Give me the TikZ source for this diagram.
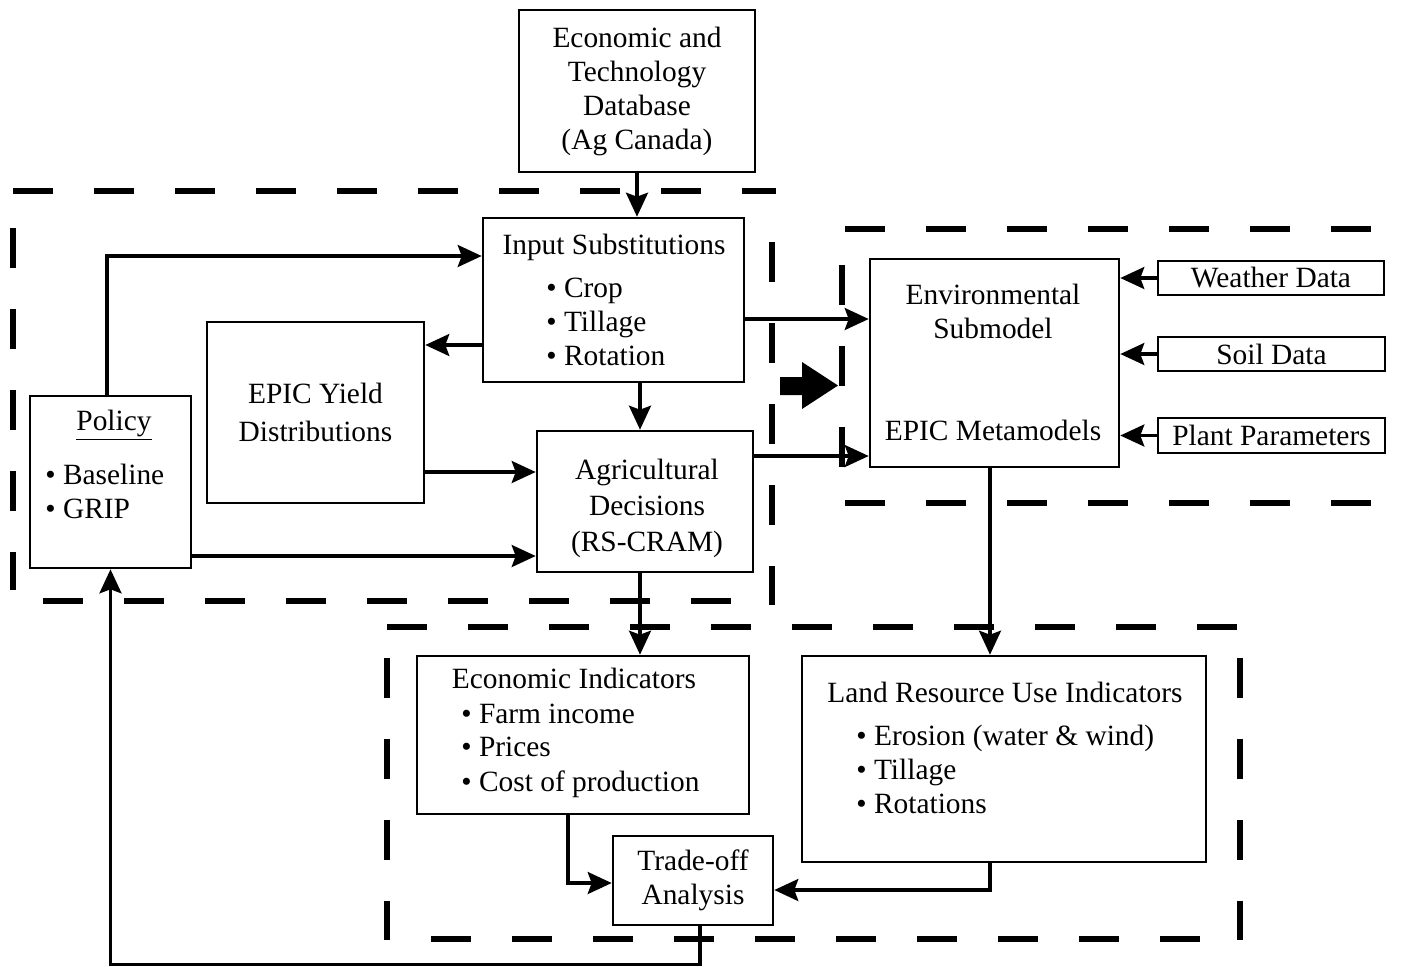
\documentclass[tikz,border=0pt]{standalone}
\usepackage{fontspec}
\setmainfont{Liberation Serif}
\usetikzlibrary{arrows.meta}
\newcommand\fs{\fontsize{14.7}{17}\selectfont}
\tikzset{
  box/.style={draw, line width=1.3pt, inner sep=0pt, align=center, font=\fs},
  txt/.style={inner sep=0pt, font=\fs},
  conn/.style={line width=1.6pt, -{Stealth[length=12pt,width=11pt,inset=2pt]}},
  frame/.style={line width=3.2pt, dash pattern=on 20pt off 20.5pt}
}
\begin{document}
\begin{tikzpicture}[x=0.5pt,y=-0.5pt]
\useasboundingbox (0,0) rectangle (1402,966);

% ---------- boxes ----------
\node[box, minimum width=118pt, minimum height=81pt] (econ) at (637,91)
  {Economic and\\Technology\\Database\\(Ag Canada)};
\node[box, minimum width=130.5pt, minimum height=82pt] (inputs) at (613.5,300) {};
\node[box, minimum width=108.5pt, minimum height=90.5pt] (yield) at (315.5,412.5)
  {EPIC Yield\\[2pt]Distributions};
\node[box, minimum width=80.5pt, minimum height=86pt] (policy) at (110.5,482) {};
\node[box, minimum width=108pt, minimum height=70.5pt] (agdec) at (645,501.5) {};
\node[box, minimum width=124.5pt, minimum height=104pt] (env) at (994.5,363) {};
\node[box, minimum width=113pt, minimum height=17pt] (weather) at (1271,278) {Weather Data};
\node[box, minimum width=113.5pt, minimum height=17pt] (soil) at (1271.5,354) {Soil Data};
\node[box, minimum width=113.5pt, minimum height=17.5pt] (plant) at (1271.5,435.5) {Plant Parameters};
\node[box, minimum width=166pt, minimum height=79pt] (ecoind) at (583,735) {};
\node[box, minimum width=202pt, minimum height=103pt] (land) at (1004,759) {};
\node[box, minimum width=80pt, minimum height=44.5pt] (trade) at (693,880.5)
  {Trade-off\\Analysis};

% ---------- texts inside boxes ----------
\node[txt, anchor=base] (insT) at (614,254) {Input Substitutions};
\node[txt, anchor=base west] (ins1) at (546,297) {• Crop};
\node[txt, anchor=base west] (ins2) at (546,331) {• Tillage};
\node[txt, anchor=base west] (ins3) at (546,365) {• Rotation};

\node[txt, anchor=base] (polT) at (114,430) {\underline{Policy}};
\node[txt, anchor=base west] (pol1) at (45,484) {• Baseline};
\node[txt, anchor=base west] (pol2) at (45,518) {• GRIP};

\node[txt, align=center] (agdecT) at (647,508)
  {Agricultural\\[1pt]Decisions\\[1pt](RS-CRAM)};

\node[txt, align=center] (envT) at (993,311) {Environmental\\Submodel};
\node[txt, anchor=base] (envB) at (993,440) {EPIC Metamodels};

\node[txt, anchor=base] (ecoT) at (574,688) {Economic Indicators};
\node[txt, anchor=base west] (eco1) at (461,723) {• Farm income};
\node[txt, anchor=base west] (eco2) at (461,756) {• Prices};
\node[txt, anchor=base west] (eco3) at (461,791) {• Cost of production};

\node[txt, anchor=base] (landT) at (1005,702) {Land Resource Use Indicators};
\node[txt, anchor=base west] (land1) at (856,745) {• Erosion (water \& wind)};
\node[txt, anchor=base west] (land2) at (856,779) {• Tillage};
\node[txt, anchor=base west] (land3) at (856,813) {• Rotations};

% ---------- dashed frames ----------
% policy / decision block
\draw[frame] (13,191) -- (776,191);
\draw[frame] (13,228) -- (13,590);
\draw[frame] (43,601) -- (735,601);
\draw[frame] (772,242) -- (772,605);
% environmental block
\draw[frame] (845,229) -- (1372,229);
\draw[frame] (842,265) -- (842,470);
\draw[frame] (845,503) -- (1372,503);
% indicator block
\draw[frame] (387,627) -- (1246,627);
\draw[frame] (387,658) -- (387,940);
\draw[frame] (1240,658) -- (1240,940);
\draw[frame] (431,939) -- (1207,939);

% ---------- block arrow ----------
\fill (780,377) -- (802,377) -- (802,362) -- (838,385.5) -- (802,409) -- (802,395) -- (780,395) -- cycle;

% ---------- connectors ----------
\draw[conn] (econ.south) -- (econ.south |- inputs.north);
\draw[conn] ([xshift=-1.75pt]policy.north) |- ([yshift=22pt]inputs.west);
\draw[conn] ([yshift=-22.5pt]inputs.west) -- ([yshift=-22.5pt]inputs.west -| yield.east);
\draw[conn] ([xshift=-2.5pt]agdec.north |- inputs.south) -- ([xshift=-2.5pt]agdec.north);
\draw[conn] ([yshift=-29.75pt]yield.east) -- ([yshift=-29.75pt]yield.east -| agdec.west);
\draw[conn] ([yshift=-37pt]policy.east) -- ([yshift=-37pt]policy.east -| agdec.west);
\draw[conn] ([yshift=-9.5pt]inputs.east) -- ([yshift=-9.5pt]inputs.east -| env.west);
\draw[conn] ([yshift=22.75pt]agdec.east) -- ([yshift=22.75pt]agdec.east -| env.west);
\draw[conn] (weather.west) -- (weather.west -| env.east);
\draw[conn] (soil.west) -- (soil.west -| env.east);
\draw[conn] (plant.west) -- (plant.west -| env.east);
\draw[conn] ([xshift=-2.5pt]agdec.south) -- ([xshift=-2.5pt]agdec.south |- ecoind.north);
\draw[conn] ([xshift=-2.25pt]env.south) -- ([xshift=-2.25pt]env.south |- land.north);
\draw[conn] ([xshift=-7.5pt]ecoind.south) |- ([yshift=-1.25pt]trade.west);
\draw[conn] ([xshift=-7pt]land.south) |- ([yshift=-4.75pt]trade.east);
\draw[conn] ([xshift=3.5pt]trade.south) -- ++(0,38) -| (policy.south);
\end{tikzpicture}
\end{document}
